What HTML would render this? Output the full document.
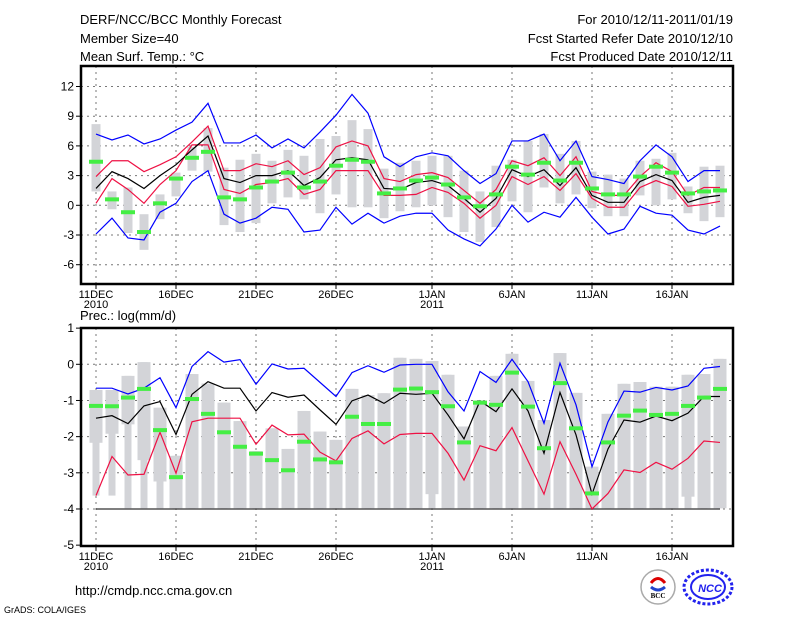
<!DOCTYPE html>
<html><head><meta charset="utf-8"><style>
body{margin:0;background:#fff;}
svg{display:block;font-family:"Liberation Sans",sans-serif;}
</style></head><body>
<svg id="c" width="800" height="618" viewBox="0 0 800 618">
<g font-size="13" fill="#000">
<text x="80" y="24">DERF/NCC/BCC Monthly Forecast</text>
<text x="80" y="43">Member Size=40</text>
<text x="80" y="61">Mean Surf. Temp.: °C</text>
<text x="733" y="24" text-anchor="end">For 2010/12/11-2011/01/19</text>
<text x="733" y="43" text-anchor="end">Fcst Started Refer Date 2010/12/10</text>
<text x="733" y="61" text-anchor="end">Fcst Produced Date 2010/12/11</text>
<text x="80" y="320">Prec.: log(mm/d)</text>
</g>
<g id="top"></g>
<g id="bot"></g>
<text x="75" y="595" font-size="13">http://cmdp.ncc.cma.gov.cn</text>
<text x="4" y="613" font-size="9">GrADS: COLA/IGES</text>
<g>
<circle cx="658" cy="587" r="17" fill="#fff" stroke="#aaa" stroke-width="1.5"/>
<path d="M651 583 q7-9 14 0" stroke="#d00" stroke-width="3" fill="none"/>
<path d="M651 587 q7 6 14 0" stroke="#24c" stroke-width="3" fill="none"/>
<text x="658" y="598" font-size="7" font-weight="bold" text-anchor="middle" font-family="Liberation Serif,serif">BCC</text>
</g>
<g>
<ellipse cx="708" cy="587" rx="24" ry="17" fill="none" stroke="#22e" stroke-width="3" stroke-dasharray="3 2"/>
<ellipse cx="708" cy="587" rx="17" ry="12" fill="none" stroke="#22e" stroke-width="2"/>
<text x="710" y="592" font-size="11" font-weight="bold" fill="#22e" text-anchor="middle" font-style="italic">NCC</text>
</g>
</svg>
<script>
const days=["11DEC","16DEC","21DEC","26DEC","1JAN","6JAN","11JAN","16JAN"];
const dayIdx=[0,5,10,15,21,26,31,36];
const tTicks=[12,9,6,3,0,-3,-6];
const pTicks=[1,0,-1,-2,-3,-4,-5];
// Temperature
const tMean=[1.7,3.4,2.7,1.7,3.0,4.1,5.6,7.0,2.7,2.3,3.0,3.0,3.5,2.0,2.8,4.6,4.8,4.6,1.7,1.6,2.3,2.5,2.0,0.7,-0.7,0.7,3.6,2.9,3.6,2.0,3.8,1.0,0.3,0.3,2.4,3.1,2.5,0.3,0.8,1.0];
const tRedHi=[2.9,4.5,4.5,3.4,4.1,4.9,6.4,8.0,3.5,3.5,4.2,3.9,4.5,3.1,3.8,5.9,6.5,6.0,2.7,2.4,3.1,3.3,2.8,1.5,0.2,1.6,4.5,4.0,4.8,3.0,4.9,1.4,1.0,1.0,2.9,4.3,3.4,1.0,1.8,1.8];
const tRedLo=[0.2,2.7,1.6,0.2,2.1,3.5,6.1,6.1,1.6,1.2,2.1,2.3,2.7,1.1,1.6,3.5,3.5,3.5,1.0,1.0,1.1,1.8,1.3,0.2,-1.3,0.0,2.9,2.1,2.9,1.5,3.2,0.7,-0.2,-0.2,1.8,2.5,1.9,-0.1,0.1,0.4];
const tBlueHi=[7.2,6.6,7.1,6.2,6.7,7.6,8.4,10.3,6.3,6.3,7.1,5.8,6.7,5.8,7.4,9.1,11.2,9.3,4.9,3.9,4.9,5.3,5.0,3.5,2.2,3.2,6.5,6.5,7.2,4.5,6.5,2.9,2.6,2.2,4.5,6.1,4.9,2.4,3.5,3.5];
const tBlueLo=[-2.9,-1.3,-3.3,-3.5,-0.7,0.2,2.4,3.5,-0.9,-1.8,-1.3,-0.2,-0.4,-2.7,-2.5,-0.2,-1.9,-0.8,-1.8,-1.1,-0.8,-0.8,-2.5,-3.4,-4.1,-2.4,0.0,-1.7,-0.7,-1.2,0.8,-1.2,-2.9,-2.4,-0.1,-0.8,-1.0,-2.5,-2.9,-2.1];
const tBarTop=[8.2,1.4,1.8,-0.9,1.1,3.3,5.9,7.8,3.8,4.6,5.2,4.5,5.6,5.0,6.7,7.0,8.6,7.7,3.7,4.3,4.5,5.0,5.0,3.5,1.4,4.0,4.6,6.5,7.2,5.2,6.5,3.4,3.1,2.7,4.5,4.7,5.3,1.9,3.9,4.0];
const tBarBot=[1.4,-0.4,-2.8,-4.5,-1.4,0.9,3.5,3.4,-2.0,-2.7,-1.8,0.2,0.8,0.6,-0.8,1.1,-0.2,-0.2,-1.3,-0.6,-0.2,0.0,-1.2,-2.7,-3.7,-2.2,0.4,-0.7,1.8,0.2,1.1,-0.3,-1.1,-1.1,1.0,0.0,0.6,-0.8,-1.6,-1.2];
const tObs=[4.4,0.6,-0.7,-2.7,0.2,2.7,4.8,5.4,0.8,0.6,1.8,2.4,3.3,1.8,2.4,4.0,4.6,4.4,1.2,1.7,2.5,2.8,2.1,0.8,-0.1,1.1,3.9,3.1,4.3,2.5,4.3,1.7,1.1,1.1,2.9,3.9,3.3,1.2,1.4,1.5];
// Precipitation
const pMean=[-1.49,-1.42,-1.64,-1.15,-1.03,-1.94,-0.83,-0.48,-0.66,-0.66,-1.29,-0.78,-0.91,-0.85,-1.26,-1.66,-1.01,-0.85,-1.08,-0.8,-0.83,-0.8,-1.4,-2.06,-1.01,-1.31,-0.68,-1.29,-2.46,-0.78,-1.95,-3.59,-2.34,-1.54,-1.6,-1.43,-1.56,-1.35,-0.89,-0.89];
const pBlue=[-0.66,-0.66,-0.82,-0.66,-0.37,-1.2,-0.06,0.35,0.06,0.13,-0.55,0.01,-0.13,-0.11,-0.5,-0.89,-0.23,-0.04,-0.22,-0.02,0.0,0.0,-0.76,-1.29,-0.2,-0.5,0.14,-0.48,-1.63,0.03,-1.12,-2.83,-1.59,-0.74,-0.77,-0.64,-0.71,-0.6,-0.11,-0.06];
const pRed=[-3.63,-2.55,-3.06,-3.04,-1.88,-3.01,-1.59,-1.49,-1.49,-1.49,-2.21,-1.68,-1.95,-1.93,-2.43,-2.67,-2.05,-1.84,-2.2,-1.94,-1.91,-1.91,-2.46,-3.2,-2.25,-2.39,-1.75,-2.67,-3.59,-2.14,-3.04,-4.0,-3.57,-2.92,-2.99,-2.71,-2.9,-2.6,-2.12,-2.16];
const pObs=[-1.15,-1.16,-0.92,-0.68,-1.82,-3.12,-0.96,-1.37,-1.88,-2.28,-2.47,-2.65,-2.93,-2.14,-2.63,-2.71,-1.45,-1.65,-1.65,-0.7,-0.67,-0.77,-1.16,-2.16,-1.06,-1.12,-0.23,-1.17,-2.32,-0.52,-1.77,-3.57,-2.16,-1.42,-1.28,-1.4,-1.37,-1.15,-0.92,-0.68];
const pBarTop=[-0.71,-0.71,-0.32,0.06,-1.2,-2.53,-0.27,-0.53,-1.06,-1.57,-2.4,-1.77,-2.34,-1.29,-1.86,-2.09,-0.68,-0.85,-0.8,0.18,0.15,0.09,-0.29,-1.72,-1.0,-0.32,0.29,-0.46,-1.54,0.31,-0.79,-2.83,-1.37,-0.54,-0.49,-0.62,-0.62,-0.29,-0.27,0.15];
const pBarMid=[-2.17,-1.92,-1.66,-2.65,-3.24,-3.98,-3.98,-3.98,-3.98,-3.98,-3.98,-3.98,-3.98,-3.98,-3.98,-3.98,-3.98,-3.98,-3.98,-3.98,-3.98,-3.59,-3.98,-3.98,-3.98,-3.98,-3.98,-3.98,-3.98,-3.98,-3.98,-3.98,-3.98,-3.98,-3.98,-3.98,-3.98,-3.66,-3.98,-3.98];
const pBarBot=[-3.63,-3.63,-3.98,-3.98,-3.98,-3.98,-3.98,-3.98,-3.98,-3.98,-3.98,-3.98,-3.98,-3.98,-3.98,-3.98,-3.98,-3.98,-3.98,-3.98,-3.98,-3.98,-3.98,-3.98,-3.98,-3.98,-3.98,-3.98,-3.98,-3.98,-3.98,-3.98,-3.98,-3.98,-3.98,-3.98,-3.98,-3.98,-3.98,-3.98];
const pFloor=-4;

const NS="http://www.w3.org/2000/svg";
const xS=i=>96+16*i;
const yT=v=>205.3-v*9.9;
const yB=v=>364.3-v*36.17;
function mk(p,tag,a){const e=document.createElementNS(NS,tag);for(const k in a)e.setAttribute(k,a[k]);p.appendChild(e);return e;}
function panel(g,top,bot,ticks,yf,nm){
  const gr=mk(g,'g',{});
  
  
  ticks.forEach(t=>{
    const y=yf(t);
    if(y>top+2&&y<bot-2){const l=mk(gr,'line',{x1:81,x2:733,y1:y,y2:y,stroke:'#777','stroke-dasharray':'2 4','stroke-width':1});
    }
    const tk=mk(gr,'line',{x1:76,x2:80,y1:y,y2:y,stroke:'#000'});
    
    const tx=mk(gr,'text',{x:74,y:y+4,'text-anchor':'end','font-size':12});
    
    tx.textContent=t;
  });
  dayIdx.forEach((d,k)=>{
    const x=xS(d);
    const l=mk(gr,'line',{x1:x,x2:x,y1:top,y2:bot,stroke:'#777','stroke-dasharray':'2 4'});
    
    const tk=mk(gr,'line',{x1:x,x2:x,y1:bot,y2:bot+5,stroke:'#000'});
    
    const tx=mk(gr,'text',{x:x,y:bot+14,'text-anchor':'middle','font-size':11});
    
    tx.textContent=days[k];
    if(k==0||k==4){const t2=mk(gr,'text',{x:x,y:bot+24,'text-anchor':'middle','font-size':11});
    
    t2.textContent=k==0?'2010':'2011';}
  });
}
function line(g,arr,yf,col,nm){
  const p=mk(g,'polyline',{points:arr.map((v,i)=>xS(i)+','+yf(v)).join(' '),fill:'none',stroke:col,'stroke-width':1.2});
  
  
}
function obs(g,arr,yf){
  arr.forEach((v,i)=>{const r=mk(g,'rect',{x:xS(i)-7,y:yf(v)-2,width:14,height:4,fill:'#44ee44'});
  });
}
function frame(g,top,bot,nm){
  const r=mk(g,'rect',{x:81,y:top,width:652,height:bot-top,fill:'none',stroke:'#000','stroke-width':2.5});
  
}
// top panel
const T=document.getElementById('top');
panel(T,66,284,tTicks,yT,'temperature');
tBarTop.forEach((v,i)=>{const r=mk(T,'rect',{x:xS(i)-4.5,y:yT(v),width:9,height:yT(tBarBot[i])-yT(v),fill:'#d3d4d8'});
});
line(T,tBlueHi,yT,'#0000ff','blue-upper-line');
line(T,tBlueLo,yT,'#0000ff','blue-lower-line');
line(T,tRedHi,yT,'#ee1144','red-upper-line');
line(T,tRedLo,yT,'#ee1144','red-lower-line');
line(T,tMean,yT,'#000','ensemble-mean-line');
obs(T,tObs,yT);
frame(T,66,284,'temperature-frame');
// bottom panel
const B=document.getElementById('bot');
panel(B,328,546,pTicks,yB,'precipitation');
pBarTop.forEach((v,i)=>{
  const r=mk(B,'rect',{x:xS(i)-3.5,y:yB(v),width:7,height:yB(pBarBot[i])-yB(v),fill:'#d3d4d8'});
  
  const w=mk(B,'rect',{x:xS(i)-6.5,y:yB(v),width:13,height:yB(pBarMid[i])-yB(v),fill:'#d3d4d8'});
  
});
const fl=mk(B,'line',{x1:xS(0),x2:xS(39),y1:yB(pFloor),y2:yB(pFloor),stroke:'#333','stroke-width':1.2});

line(B,pBlue,yB,'#0000ff','blue-upper-line');
line(B,pRed,yB,'#ee1144','red-lower-line');
line(B,pMean,yB,'#000','ensemble-mean-line');
obs(B,pObs,yB);
frame(B,328,546,'precipitation-frame');
</script>
</body></html>
